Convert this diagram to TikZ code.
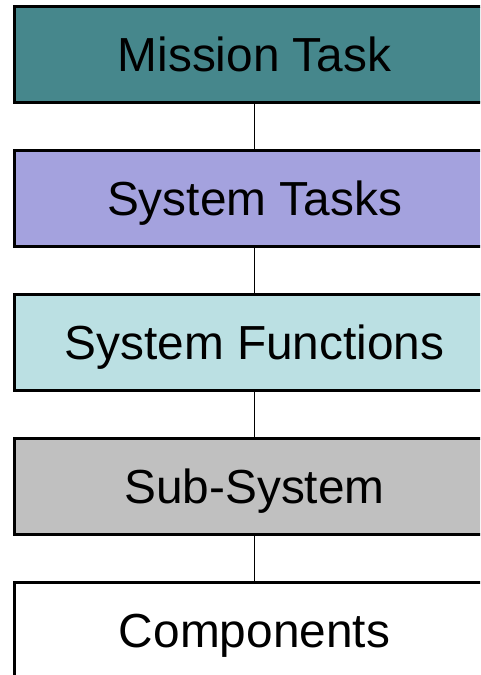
\documentclass[tikz,border=0pt]{standalone}
\usepackage{fontspec}
\setmainfont{Liberation Sans}
\definecolor{missioncol}{HTML}{46878C}
\definecolor{taskcol}{HTML}{A4A2DE}
\definecolor{funccol}{HTML}{BBE0E3}
\definecolor{subcol}{HTML}{C0C0C0}
\begin{document}
\begin{tikzpicture}[main/.style = {draw, line width=3pt, minimum width=480pt, minimum height=96pt, text height=33pt, text depth=0pt, font=\fontsize{47.8}{56}\selectfont},node distance={144pt}]
\useasboundingbox (0,0) rectangle (480pt,-675pt);
\clip (0,0) rectangle (480pt,-675pt);
\node[main] (1) at (254.5pt,-54.5pt) [fill=missioncol] {Mission Task};
\node[main] (2) [below of=1][fill=taskcol] {System Tasks};
\node[main] (3) [below of=2][fill=funccol] {System Functions};
\node[main] (4) [below of=3][fill=subcol] {Sub-System};
\node[main] (5) [below of=4][fill=white] {Components};
\draw[line width=1.2pt] (1) -- (2);
\draw[line width=1.2pt] (2) -- (3);
\draw[line width=1.2pt] (3) -- (4);
\draw[line width=1.2pt] (4) -- (5);
\end{tikzpicture}
\end{document}
